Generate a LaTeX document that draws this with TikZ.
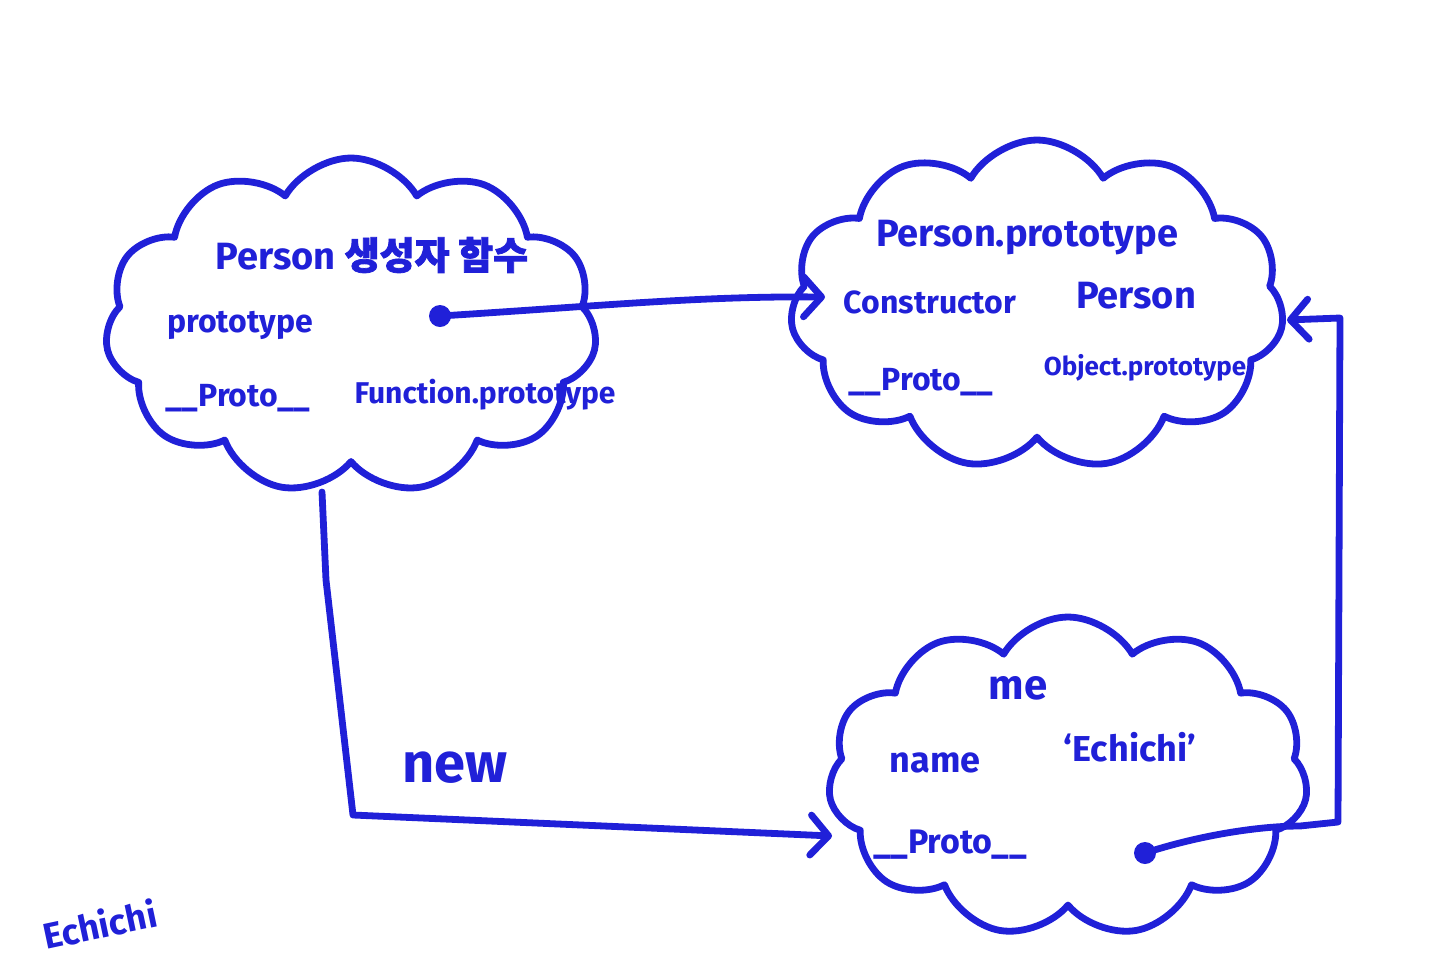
\documentclass[tikz,border=0pt]{standalone}
\usepackage{fontspec}
\setmainfont{Fira Sans}
\newfontfamily\kr{Noto Sans CJK KR}[FakeBold=2]
\usetikzlibrary{shapes.symbols,arrows.meta}
\definecolor{ink}{RGB}{32,32,216}
\tikzset{
  ink/.style={draw=ink,line width=3.4pt,line cap=round,line join=round},
  cloudbox/.style={ink,shape=cloud,cloud puffs=11,cloud puff arc=120,cloud ignores aspect,inner sep=0pt},
  lbl/.style={text=ink,inner sep=0pt,font=\bfseries},
  dot/.style={circle,fill=ink,inner sep=0pt,minimum size=11pt},
  arr/.style={ink,-{Straight Barb[length=9pt,width=20pt,line width=3.4pt,round]}}
}
\begin{document}
\begin{tikzpicture}[x=0.5pt,y=-0.5pt]
\useasboundingbox[fill=white] (0,0) rectangle (1440,960);
% clouds
\node[cloudbox,minimum width=246pt,minimum height=168pt] (c1) at (351,326) {};
\node[cloudbox,minimum width=247pt,minimum height=165pt] (c2) at (1037,305) {};
\node[cloudbox,minimum width=240pt,minimum height=160pt] (c3) at (1068,777) {};
% cloud 1 texts
\node[lbl,font=\bfseries\fontsize{19}{22}\selectfont] (t1) at (372,255) {Person {\kr 생성자 함수}};
\node[lbl,font=\bfseries\fontsize{16}{19}\selectfont] (t2) at (240,325) {prototype};
\node[lbl,font=\bfseries\fontsize{16}{19}\selectfont] (t3) at (238,398) {\_\_Proto\_\_};
\node[lbl,font=\bfseries\fontsize{15}{18}\selectfont] (t4) at (485,395) {Function.prototype};
\node[dot] (d1) at (440,316) {};
% cloud 2 texts
\node[lbl,font=\bfseries\fontsize{19}{22}\selectfont] (u1) at (1027,238) {Person.prototype};
\node[lbl,font=\bfseries\fontsize{16}{19}\selectfont] (u2) at (930,302) {Constructor};
\node[lbl,font=\bfseries\fontsize{19}{22}\selectfont] (u3) at (1136,296) {Person};
\node[lbl,font=\bfseries\fontsize{16}{19}\selectfont] (u4) at (921,382) {\_\_Proto\_\_};
\node[lbl,font=\bfseries\fontsize{13}{16}\selectfont] (u5) at (1145,368) {Object.prototype};
% cloud 3 texts
\node[lbl,font=\bfseries\fontsize{21}{24}\selectfont] (v1) at (1018,688) {me};
\node[lbl,font=\bfseries\fontsize{18}{21}\selectfont] (v2) at (935,763) {name};
\node[lbl,font=\bfseries\fontsize{18}{21}\selectfont] (v3) at (1130,747) {‘Echichi’};
\node[lbl,font=\bfseries\fontsize{17}{20}\selectfont] (v4) at (950,845) {\_\_Proto\_\_};
\node[dot] (d3) at (1145,853) {};
% other labels
\node[lbl,font=\bfseries\fontsize{28}{32}\selectfont] (new) at (455,768) {new};
\node[lbl,font=\bfseries\fontsize{18}{21}\selectfont,rotate=12] (sig) at (100,924) {Echichi};
% connector points
\coordinate (a1) at (825,297);
\coordinate (c1b) at (322,492);
\coordinate (k1) at (326,580);
\coordinate (k2) at (353,815);
\coordinate (a2) at (832,836);
\coordinate (k3) at (1300,826);
\coordinate (k4) at (1338,822);
\coordinate (k5) at (1340,318);
\coordinate (a3) at (1287,320);
% connectors
\draw[arr] (d1.center) .. controls (600,306) and (700,296) .. (a1);
\draw[arr] (c1b) -- (k1) -- (k2) -- (a2);
\draw[arr] (d3.center) .. controls (1200,835) and (1260,826) .. (k3) -- (k4) -- (k5) -- (a3);
\end{tikzpicture}
\end{document}
